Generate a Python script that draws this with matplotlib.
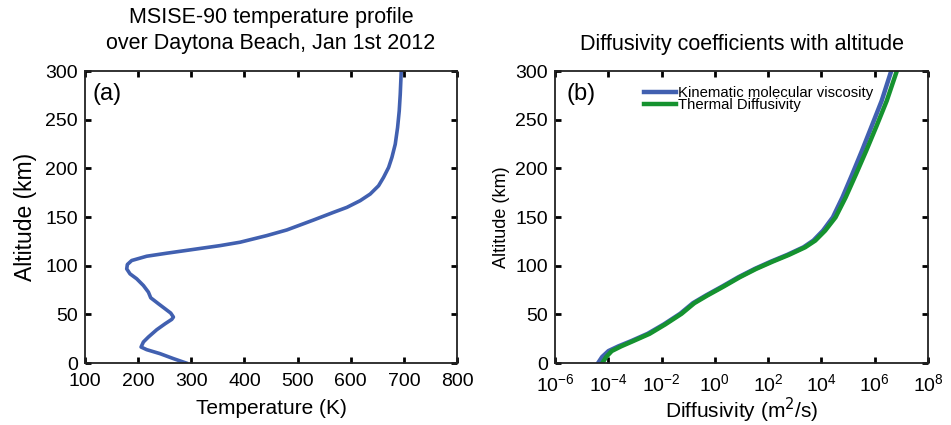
import matplotlib.pyplot as plt

# Temperature profile (a)
temp_k = [290.2, 266.4, 241.2, 216.1, 205.5, 209.9, 219.3, 235.0, 250.7, 263.2, 266.4, 261.3, 250.7, 238.1,
          223.7, 219.3, 209.9, 197.3, 184.7, 178.5, 179.7, 187.9, 216.1, 253.8, 297.7, 354.2, 391.9, 442.1,
          479.8, 530.0, 567.7, 592.8, 617.9, 636.7, 652.4, 661.8, 671.3, 677.5, 683.8, 688.2, 691.3, 693.2, 695.1]
temp_alt = [0.0, 4.5, 9.6, 13.7, 16.4, 21.6, 26.7, 34.2, 40.3, 44.8, 47.2, 51.3, 55.7, 60.9,
            67.0, 72.8, 79.6, 86.5, 91.6, 96.7, 101.2, 105.3, 109.7, 112.8, 116.2, 120.6, 124.1, 130.9,
            136.7, 146.9, 154.8, 159.9, 166.8, 173.6, 182.1, 190.7, 200.9, 211.2, 224.8, 241.9, 259.0, 276.1, 300]

# Diffusivities (b), log10 of m^2/s
diff_alt = [0, 6.2, 12.3, 17.1, 22.6, 30.0, 39.7, 50.6, 61.5, 69.4, 78.6, 88.2, 96.7, 104.2, 111.1,
            118.9, 125.8, 136.0, 149.7, 170.2, 194.1, 218.0, 243.6, 269.3, 300]
visc_log = [-4.38, -4.23, -3.99, -3.62, -3.13, -2.52, -1.91, -1.30, -0.82, -0.33, 0.28, 0.89, 1.50, 2.11, 2.72,
            3.33, 3.70, 4.06, 4.43, 4.79, 5.16, 5.52, 5.89, 6.26, 6.62]
therm_log = [-4.22, -4.08, -3.87, -3.52, -3.06, -2.45, -1.86, -1.25, -0.77, -0.28, 0.33, 0.94, 1.55, 2.17, 2.78,
             3.39, 3.77, 4.14, 4.53, 4.91, 5.30, 5.68, 6.07, 6.45, 6.83]

blue = '#4160B0'
green = '#15922F'

plt.rcParams['font.family'] = ['Liberation Sans', 'DejaVu Sans']

fig = plt.figure(figsize=(9.51, 4.25), dpi=100)
ax1 = fig.add_axes([85 / 951, 1 - 363 / 425, 372 / 951, 292 / 425])
ax2 = fig.add_axes([555 / 951, 1 - 363 / 425, 373 / 951, 292 / 425])

for ax in (ax1, ax2):
    ax.tick_params(direction='in', top=True, right=True, length=4, width=2, labelsize=14)
    ax.tick_params(axis='x', pad=7)
    ax.tick_params(axis='y', pad=5)
    for s in ax.spines.values():
        s.set_linewidth(1.3)
        s.set_color('#222222')

ax1.plot(temp_k, temp_alt, color=blue, lw=2.6)
ax1.set_xlim(100, 800)
ax1.set_ylim(0, 300)
ax1.set_xticks(range(100, 801, 100))
ax1.set_yticks(range(0, 301, 50))
ax1.set_xlabel('Temperature (K)', fontsize=15, labelpad=7)
ax1.set_ylabel('Altitude (km)', fontsize=16.5, labelpad=6)
ax1.set_title('MSISE-90 temperature profile\nover Daytona Beach, Jan 1st 2012', fontsize=15.5, linespacing=1.3, pad=16)
ax1.text(0.02, 0.96, '(a)', transform=ax1.transAxes, fontsize=17, va='top', ha='left')

ax2.plot([10 ** v for v in visc_log], diff_alt, color=blue, lw=3.2, label='Kinematic molecular viscosity')
ax2.plot([10 ** v for v in therm_log], diff_alt, color=green, lw=3.2, label='Thermal Diffusivity')
ax2.set_xscale('log')
ax2.set_xlim(1e-6, 1e8)
ax2.set_ylim(0, 300)
ax2.set_xticks([10.0 ** e for e in range(-6, 9, 2)])
ax2.minorticks_off()
ax2.set_yticks(range(0, 301, 50))
ax2.set_xlabel('Diffusivity (m$^2$/s)', fontsize=15, labelpad=1)
ax2.set_ylabel('Altitude (km)', fontsize=13, labelpad=4)
ax2.set_title('Diffusivity coefficients with altitude', fontsize=15.5, pad=15)
ax2.text(0.03, 0.96, '(b)', transform=ax2.transAxes, fontsize=17, va='top', ha='left')
ax2.legend(loc='upper left', bbox_to_anchor=(0.20, 1.0), frameon=False, fontsize=10.7,
           handlelength=2.1, handletextpad=0.15, labelspacing=-0.1, borderaxespad=0.6)

fig.savefig('out.png', dpi=100)
